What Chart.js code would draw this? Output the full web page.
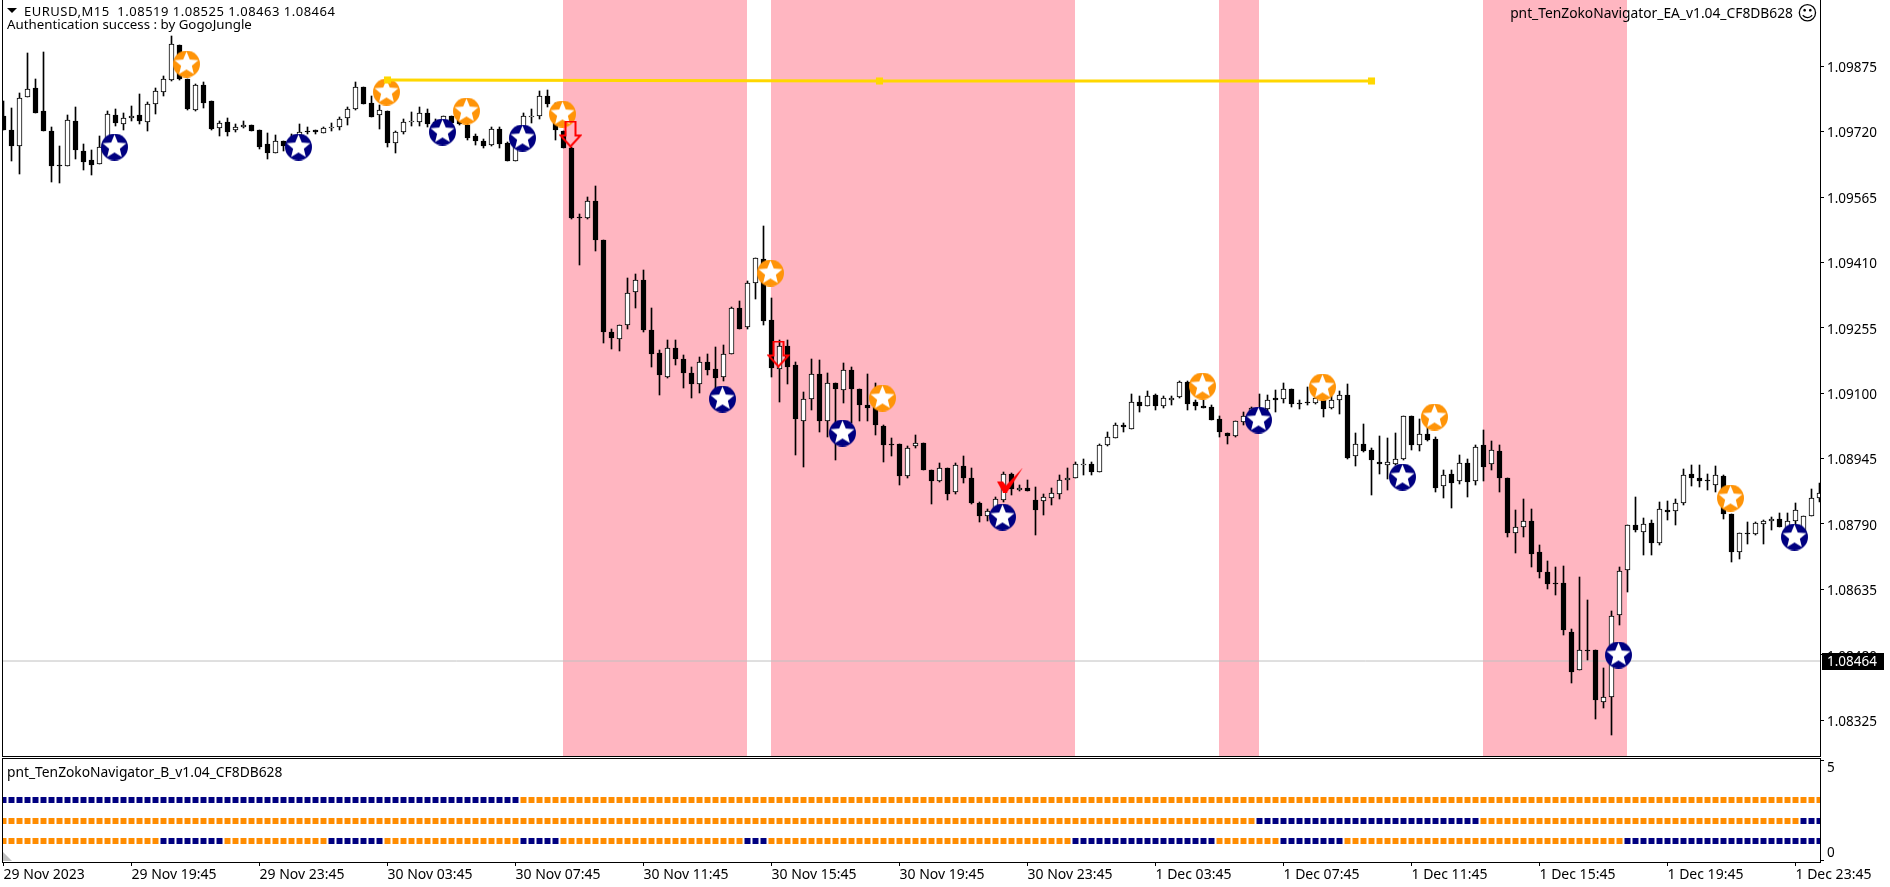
<!DOCTYPE html>
<html lang="en">
<head>
<meta charset="UTF-8">
<title>EURUSD,M15</title>
<script src="https://cdn.jsdelivr.net/npm/chart.js"></script>
<style>
    html, body { margin: 0; padding: 0; background: #fff; overflow: hidden; }
    body { width: 1890px; height: 887px; position: relative; font-family: "Noto Sans", sans-serif; font-size: 13.8px; color: #000; }
    canvas { position: absolute; left: 0; }
    #mainChart { top: 0; }
    #paneChart { top: 758px; }
    .label { position: absolute; white-space: pre; line-height: 14px; }
    #marker { position: absolute; left: 7px; top: 8px; width: 0; height: 0; border-left: 5px solid transparent; border-right: 5px solid transparent; border-top: 5px solid #000; }
    #corner { position: absolute; left: 3px; top: 852px; width: 0; height: 0; border-bottom: 9px solid #c0c0c0; border-right: 9px solid transparent; }
</style>
</head>
<body>
<canvas id="mainChart" width="1890" height="757"></canvas>
<canvas id="paneChart" width="1890" height="129"></canvas>
<div id="marker"></div>
<div class="label" style="left:24px;top:4px;font-size:13px;letter-spacing:.5px">EURUSD,M15  1.08519 1.08525 1.08463 1.08464</div>
<div class="label" style="left:7px;top:17px;font-size:13.3px">Authentication success : by GogoJungle</div>
<div class="label" style="right:97px;top:6px">pnt_TenZokoNavigator_EA_v1.04_CF8DB628</div>
<div class="label" style="left:1797px;top:2px;font:20px/22px 'DejaVu Sans'">&#9786;</div>
<div class="label" style="left:7px;top:765px">pnt_TenZokoNavigator_B_v1.04_CF8DB628</div>
<div id="corner"></div>
<script>
// M15 bars, one entry per bar
const opens = [
    1.09757,1.09725,1.09687,1.09801,1.09823,1.09769,1.09722,1.09641,1.09639,1.09745,
    1.09674,1.09653,1.09644,1.09683,1.09759,1.09739,1.09752,1.09759,1.09744,1.09785,
    1.09815,1.09842,1.09925,1.09844,1.09772,1.09831,1.09793,1.09728,1.09743,1.09723,
    1.09730,1.09735,1.09723,1.09690,1.09670,1.09697,1.09687,1.09696,1.09722,1.09723,
    1.09716,1.09731,1.09732,1.09752,1.09773,1.09825,1.09787,1.09759,1.09769,1.09694,
    1.09719,1.09742,1.09744,1.09764,1.09732,1.09740,1.09756,1.09748,1.09736,1.09710,
    1.09698,1.09688,1.09726,1.09692,1.09651,1.09720,1.09754,1.09756,1.09805,1.09771,
    1.09722,1.09682,1.09518,1.09516,1.09555,1.09463,1.09245,1.09228,1.09261,1.09339,
    1.09369,1.09250,1.09195,1.09138,1.09207,1.09181,1.09147,1.09121,1.09173,1.09157,
    1.09138,1.09192,1.09301,1.09256,1.09361,1.09418,1.09273,1.09157,1.09212,1.09167,
    1.09035,1.09086,1.09145,1.09035,1.09124,1.09107,1.09155,1.09110,1.09073,1.09067,
    1.09023,1.08979,1.08979,1.08903,1.08974,1.08982,1.08919,1.08893,1.08922,1.08865,
    1.08928,1.08900,1.08840,1.08808,1.08820,1.08848,1.08909,1.08870,1.08875,1.08847,
    1.08844,1.08851,1.08861,1.08894,1.08899,1.08931,1.08933,1.08912,1.08977,1.08994,
    1.09024,1.09015,1.09079,1.09069,1.09095,1.09069,1.09085,1.09090,1.09126,1.09079,
    1.09069,1.09067,1.09038,1.09005,1.08999,1.09032,1.09043,1.09064,1.09062,1.09088,
    1.09087,1.09109,1.09077,1.09078,1.09076,1.09084,1.09064,1.09085,1.09095,1.08950,
    1.08979,1.08965,1.08938,1.08929,1.08933,1.08943,1.09045,1.08978,1.09003,1.08991,
    1.08879,1.08908,1.08891,1.08934,1.08892,1.08977,1.08932,1.08963,1.08899,1.08768,
    1.08783,1.08797,1.08723,1.08676,1.08651,1.08650,1.08534,1.08444,1.08491,1.08491,
    1.08367,1.08380,1.08574,1.08681,1.08787,1.08771,1.08792,1.08746,1.08823,1.08821,
    1.08839,1.08908,1.08899,1.08894,1.08882,1.08903,1.08813,1.08723,1.08769,1.08766,
    1.08791,1.08797,1.08802,1.08772,1.08798,1.08764,1.08809,1.08851
];
const highs = [
    1.09793,1.09775,1.09811,1.09906,1.09844,1.09908,1.09731,1.09686,1.09759,1.09778,
    1.09691,1.09676,1.09710,1.09769,1.09774,1.09763,1.09781,1.09809,1.09791,1.09823,
    1.09853,1.09947,1.09925,1.09844,1.09834,1.09838,1.09793,1.09746,1.09752,1.09738,
    1.09745,1.09735,1.09723,1.09716,1.09712,1.09697,1.09714,1.09738,1.09732,1.09723,
    1.09732,1.09741,1.09755,1.09778,1.09838,1.09825,1.09805,1.09783,1.09769,1.09722,
    1.09750,1.09767,1.09779,1.09773,1.09749,1.09756,1.09756,1.09756,1.09740,1.09715,
    1.09702,1.09730,1.09730,1.09696,1.09712,1.09765,1.09773,1.09817,1.09819,1.09787,
    1.09722,1.09683,1.09525,1.09565,1.09591,1.09463,1.09252,1.09261,1.09373,1.09382,
    1.09392,1.09301,1.09203,1.09226,1.09226,1.09191,1.09162,1.09185,1.09193,1.09209,
    1.09215,1.09304,1.09319,1.09366,1.09420,1.09497,1.09325,1.09227,1.09227,1.09174,
    1.09103,1.09181,1.09178,1.09148,1.09124,1.09171,1.09163,1.09110,1.09145,1.09124,
    1.09024,1.08994,1.08979,1.08975,1.09000,1.08983,1.08919,1.08934,1.08922,1.08934,
    1.08952,1.08922,1.08843,1.08825,1.08855,1.08912,1.08911,1.08883,1.08895,1.08877,
    1.08862,1.08875,1.08907,1.08922,1.08938,1.08944,1.08936,1.08980,1.09008,1.09029,
    1.09029,1.09098,1.09094,1.09106,1.09098,1.09093,1.09093,1.09129,1.09129,1.09085,
    1.09085,1.09072,1.09046,1.09006,1.09034,1.09055,1.09068,1.09098,1.09096,1.09107,
    1.09125,1.09109,1.09085,1.09115,1.09119,1.09088,1.09096,1.09104,1.09122,1.09005,
    1.09028,1.08969,1.08998,1.08993,1.09005,1.09045,1.09045,1.09038,1.09022,1.08997,
    1.08918,1.08919,1.08954,1.08944,1.08978,1.09013,1.08987,1.08978,1.08899,1.08824,
    1.08849,1.08825,1.08740,1.08702,1.08689,1.08691,1.08541,1.08664,1.08610,1.08491,
    1.08448,1.08584,1.08687,1.08787,1.08855,1.08804,1.08800,1.08843,1.08845,1.08849,
    1.08920,1.08930,1.08930,1.08908,1.08928,1.08906,1.08813,1.08768,1.08794,1.08794,
    1.08800,1.08806,1.08816,1.08816,1.08839,1.08810,1.08873,1.08888
];
const lows = [
    1.09724,1.09651,1.09619,1.09801,1.09765,1.09722,1.09601,1.09599,1.09638,1.09656,
    1.09628,1.09616,1.09644,1.09683,1.09733,1.09724,1.09745,1.09738,1.09722,1.09761,
    1.09805,1.09841,1.09842,1.09771,1.09770,1.09777,1.09724,1.09710,1.09710,1.09720,
    1.09728,1.09721,1.09679,1.09654,1.09670,1.09673,1.09680,1.09694,1.09714,1.09714,
    1.09716,1.09721,1.09725,1.09736,1.09771,1.09786,1.09754,1.09726,1.09684,1.09670,
    1.09715,1.09734,1.09734,1.09730,1.09728,1.09732,1.09736,1.09736,1.09700,1.09689,
    1.09681,1.09686,1.09681,1.09651,1.09651,1.09677,1.09741,1.09750,1.09778,1.09700,
    1.09682,1.09513,1.09403,1.09512,1.09438,1.09220,1.09204,1.09199,1.09252,1.09301,
    1.09244,1.09161,1.09096,1.09135,1.09166,1.09113,1.09089,1.09100,1.09142,1.09108,
    1.09128,1.09192,1.09252,1.09251,1.09324,1.09262,1.09139,1.09078,1.09122,1.08954,
    1.08924,1.09059,1.09009,1.08997,1.08941,1.09076,1.09029,1.09035,1.09035,1.09000,
    1.08938,1.08952,1.08883,1.08900,1.08971,1.08917,1.08838,1.08890,1.08847,1.08860,
    1.08888,1.08838,1.08794,1.08796,1.08808,1.08843,1.08859,1.08869,1.08867,1.08764,
    1.08812,1.08834,1.08850,1.08871,1.08898,1.08907,1.08907,1.08912,1.08974,1.08993,
    1.09007,1.09014,1.09056,1.09069,1.09059,1.09066,1.09073,1.09088,1.09060,1.09059,
    1.09066,1.09036,1.08997,1.08980,1.08997,1.09025,1.09036,1.09028,1.09056,1.09056,
    1.09076,1.09068,1.09062,1.09071,1.09074,1.09044,1.09063,1.09051,1.08945,1.08927,
    1.08961,1.08859,1.08908,1.08897,1.08930,1.08942,1.08965,1.08964,1.08987,1.08866,
    1.08852,1.08829,1.08885,1.08855,1.08882,1.08893,1.08917,1.08865,1.08758,1.08721,
    1.08759,1.08687,1.08663,1.08637,1.08621,1.08526,1.08414,1.08444,1.08468,1.08328,
    1.08353,1.08289,1.08550,1.08628,1.08772,1.08717,1.08717,1.08739,1.08800,1.08787,
    1.08834,1.08881,1.08877,1.08870,1.08866,1.08802,1.08701,1.08708,1.08742,1.08764,
    1.08742,1.08775,1.08783,1.08768,1.08784,1.08753,1.08808,1.08843
];
const closes = [
    1.09724,1.09687,1.09799,1.09820,1.09765,1.09722,1.09639,1.09639,1.09747,1.09677,
    1.09649,1.09642,1.09683,1.09761,1.09740,1.09752,1.09758,1.09746,1.09785,1.09816,
    1.09844,1.09927,1.09844,1.09774,1.09831,1.09789,1.09726,1.09740,1.09720,1.09730,
    1.09735,1.09722,1.09684,1.09670,1.09697,1.09686,1.09696,1.09720,1.09718,1.09718,
    1.09728,1.09732,1.09749,1.09773,1.09825,1.09786,1.09755,1.09771,1.09694,1.09718,
    1.09742,1.09745,1.09764,1.09739,1.09744,1.09756,1.09740,1.09738,1.09706,1.09698,
    1.09686,1.09726,1.09691,1.09651,1.09692,1.09756,1.09756,1.09805,1.09786,1.09723,
    1.09682,1.09516,1.09515,1.09555,1.09464,1.09246,1.09232,1.09261,1.09337,1.09368,
    1.09249,1.09194,1.09142,1.09207,1.09180,1.09147,1.09121,1.09173,1.09155,1.09137,
    1.09192,1.09301,1.09253,1.09361,1.09420,1.09272,1.09159,1.09212,1.09161,1.09039,
    1.09086,1.09145,1.09035,1.09124,1.09109,1.09155,1.09109,1.09071,1.09066,1.09024,
    1.08976,1.08976,1.08903,1.08970,1.08982,1.08917,1.08891,1.08922,1.08862,1.08930,
    1.08900,1.08839,1.08808,1.08821,1.08849,1.08908,1.08872,1.08875,1.08867,1.08824,
    1.08854,1.08863,1.08894,1.08899,1.08932,1.08933,1.08912,1.08977,1.08996,1.09024,
    1.09019,1.09079,1.09069,1.09093,1.09069,1.09088,1.09088,1.09126,1.09075,1.09070,
    1.09066,1.09037,1.09007,1.08999,1.09033,1.09047,1.09066,1.09028,1.09085,1.09085,
    1.09111,1.09075,1.09076,1.09076,1.09088,1.09063,1.09085,1.09095,1.08947,1.08979,
    1.08964,1.08942,1.08933,1.08938,1.08945,1.09045,1.08978,1.09004,1.08989,1.08876,
    1.08907,1.08888,1.08934,1.08889,1.08972,1.08926,1.08965,1.08898,1.08768,1.08783,
    1.08797,1.08718,1.08675,1.08647,1.08649,1.08538,1.08438,1.08491,1.08490,1.08372,
    1.08380,1.08572,1.08678,1.08787,1.08775,1.08789,1.08746,1.08825,1.08818,1.08839,
    1.08906,1.08900,1.08891,1.08892,1.08906,1.08813,1.08723,1.08768,1.08767,1.08792,
    1.08797,1.08802,1.08784,1.08796,1.08822,1.08809,1.08851,1.08863
];

// pink zones, first and last bar of each
const zoneStarts = [70, 96, 152, 185];
const zoneEnds = [93, 134, 157, 203];

// signal markers: bar number and price
const orangeBars = [23, 48, 58, 70, 96, 110, 150, 165, 179, 216];
const orangePrices = [1.09880, 1.09815, 1.09768, 1.09761, 1.09384, 1.09088, 1.09116, 1.09114, 1.09043, 1.08851];
const navyBars = [14, 37, 55, 65, 90, 105, 125, 157, 175, 202, 224];
const navyPrices = [1.09683, 1.09683, 1.09718, 1.09704, 1.09086, 1.09005, 1.08806, 1.09036, 1.08901, 1.08479, 1.08759];
const arrowBars = [71, 97];
const arrowPrices = [1.09714, 1.09193];
const checkBars = [126];
const checkPrices = [1.08894];

// gold trend line
const trendBars = [48, 109.5, 171];
const trendPrices = [1.09842, 1.09841, 1.09839];

const bidPrice = 1.08464;
const priceTicks = [1.09875, 1.09720, 1.09565, 1.09410, 1.09255, 1.09100, 1.08945, 1.08790, 1.08635, 1.08480, 1.08325];
const priceMin = 1.08240;
const priceMax = 1.10032;

// lower pane: navy runs per row as [first bar, last bar], the rest is orange
const topRowNavy = [[0, 64]];
const midRowNavy = [[157, 184], [225, 227]];
const lowRowNavy = [[20, 27], [41, 47], [65, 69], [93, 95], [134, 151], [160, 167], [203, 227]];
const rowLevels = [3, 2, 1];
const paneTicks = [5, 0];

const timeTickBars = [0, 16, 32, 48, 64, 80, 96, 112, 128, 144, 160, 176, 192, 208, 224];
const timeLabels = ["29 Nov 2023", "29 Nov 19:45", "29 Nov 23:45", "30 Nov 03:45", "30 Nov 07:45",
    "30 Nov 11:45", "30 Nov 15:45", "30 Nov 19:45", "30 Nov 23:45", "1 Dec 03:45",
    "1 Dec 07:45", "1 Dec 11:45", "1 Dec 15:45", "1 Dec 19:45", "1 Dec 23:45"];

const NAVY = "#000080";
const ORANGE = "#FF8C00";
const GOLD = "#FFD700";
const ZONE = "#FFB6C1";
const AXIS_FONT = { family: "'Noto Sans', sans-serif", size: 13.5 };
const TIME_FONT = { family: "'Noto Sans', sans-serif", size: 14 };
const barMin = -0.1875, barMax = 227.0625;

function makeStar(color) {
    const c = document.createElement("canvas");
    c.width = c.height = 27;
    const g = c.getContext("2d");
    g.fillStyle = color;
    g.beginPath();
    g.arc(13.5, 13.5, 13.5, 0, Math.PI * 2);
    g.fill();
    g.fillStyle = "#fff";
    g.beginPath();
    for (let i = 0; i < 10; i++) {
        const r = i % 2 ? 5.6 : 12.5;
        const a = -Math.PI / 2 + i * Math.PI / 5;
        g.lineTo(13.5 + r * Math.cos(a), 13.5 + r * Math.sin(a));
    }
    g.closePath();
    g.fill();
    return c;
}

function makeArrow() {
    const c = document.createElement("canvas");
    c.width = 23;
    c.height = 27;
    const g = c.getContext("2d");
    g.strokeStyle = "#FF0000";
    g.lineWidth = 2;
    g.beginPath();
    g.moveTo(6.5, 1);
    g.lineTo(16.5, 1);
    g.lineTo(16.5, 15);
    g.lineTo(21.5, 15);
    g.lineTo(11.5, 26);
    g.lineTo(1.5, 15);
    g.lineTo(6.5, 15);
    g.closePath();
    g.stroke();
    return c;
}

function makeCheck() {
    const c = document.createElement("canvas");
    c.width = 27;
    c.height = 25;
    const g = c.getContext("2d");
    g.fillStyle = "#FF0000";
    g.beginPath();
    g.moveTo(0, 14);
    g.lineTo(6, 14);
    g.lineTo(9, 18);
    g.lineTo(26, 0);
    g.lineTo(10, 25);
    g.lineTo(6, 25);
    g.closePath();
    g.fill();
    return c;
}

function pairs(bars, prices) {
    return bars.map((b, i) => ({ x: b, y: prices[i] }));
}

function markers(bars, prices, image, order) {
    return {
        type: "scatter",
        data: bars.map((b, i) => ({ x: b - 0.125, y: prices[i] })),
        pointStyle: image,
        pointRadius: 14,
        order
    };
}

function rowColors(navyRuns) {
    return opens.map((_, i) => navyRuns.some(r => i >= r[0] && i <= r[1]) ? NAVY : ORANGE);
}

function rowDataset(level, navyRuns) {
    return {
        type: "scatter",
        data: opens.map((_, i) => ({ x: i, y: level })),
        pointStyle: "rect",
        pointRadius: 4.24,
        pointBorderWidth: 0,
        pointBackgroundColor: rowColors(navyRuns)
    };
}

// scales must not ask for room around the plot, panes sit edge to edge
function noScalePadding(s) {
    s.paddingTop = s.paddingBottom = s.paddingLeft = s.paddingRight = 0;
}

// snap everything to whole pixels, the original has no antialiasing
const snapPlugin = {
    id: "snap",
    afterDatasetsUpdate(chart) {
        chart.getSortedVisibleDatasetMetas().forEach(meta => {
            meta.data.forEach(el => {
                el.y = Math.round(el.y);
                if (el.base !== undefined) {
                    el.base = Math.round(el.base);
                    if (el.base === el.y) el.base = el.y + 1;
                }
            });
        });
    }
};

const zonePlugin = {
    id: "zones",
    beforeDatasetsDraw(chart) {
        const { ctx, chartArea, scales } = chart;
        ctx.save();
        ctx.fillStyle = ZONE;
        zoneStarts.forEach((start, i) => {
            const x1 = Math.round(scales.x.getPixelForValue(start)) - 1;
            const x2 = Math.round(scales.x.getPixelForValue(zoneEnds[i])) - 1;
            ctx.fillRect(x1, chartArea.top, x2 - x1, chartArea.bottom - chartArea.top);
        });
        ctx.restore();
    }
};

const framePlugin = {
    id: "frame",
    afterDraw(chart, args, opts) {
        const { ctx, chartArea: a } = chart;
        ctx.save();
        ctx.strokeStyle = "#000";
        ctx.lineWidth = 1;
        ctx.strokeRect(a.left + 0.5, a.top + (opts.top ? 0.5 : -2), a.right - a.left, a.bottom - a.top + (opts.top ? 0 : 2.5));
        ctx.restore();
    }
};

const bidTagPlugin = {
    id: "bidTag",
    afterDraw(chart) {
        const { ctx, scales } = chart;
        const y = Math.round(scales.y.getPixelForValue(bidPrice));
        ctx.save();
        ctx.fillStyle = "#000";
        ctx.fillRect(1822, y - 8, 62, 17);
        ctx.fillStyle = "#fff";
        ctx.font = "13.5px 'Noto Sans', sans-serif";
        ctx.textBaseline = "middle";
        ctx.fillText(bidPrice.toFixed(5), 1827, y + 1);
        ctx.restore();
    }
};

const candleData = {
    wicks: opens.map((_, i) => ({ x: i, y: [lows[i], highs[i]] })),
    bodies: opens.map((o, i) => ({ x: i, y: [Math.min(o, closes[i]), Math.max(o, closes[i])] }))
};

new Chart(document.getElementById("mainChart"), {
    type: "bar",
    data: {
        datasets: [
            {
                type: "line",
                data: [{ x: barMin, y: bidPrice }, { x: barMax, y: bidPrice }],
                borderColor: "#C0C0C0",
                borderWidth: 1,
                pointRadius: 0,
                order: 7
            },
            {
                data: candleData.wicks,
                backgroundColor: "#000",
                grouped: false,
                barPercentage: 1,
                categoryPercentage: 1,
                maxBarThickness: 1,
                order: 6
            },
            {
                data: candleData.bodies,
                backgroundColor: opens.map((o, i) => closes[i] >= o ? "#fff" : "#000"),
                borderColor: "#000",
                borderWidth: 1,
                borderSkipped: false,
                grouped: false,
                barPercentage: 1,
                categoryPercentage: 1,
                maxBarThickness: 5,
                order: 5
            },
            markers(orangeBars, orangePrices, makeStar("#FF9408"), 4),
            markers(navyBars, navyPrices, makeStar(NAVY), 4),
            {
                type: "line",
                data: pairs(trendBars, trendPrices),
                borderColor: GOLD,
                borderWidth: 3,
                pointStyle: "rect",
                pointRadius: 5,
                pointBackgroundColor: GOLD,
                pointBorderWidth: 0,
                order: 3
            },
            markers(checkBars, checkPrices, makeCheck(), 2),
            markers(arrowBars, arrowPrices, makeArrow(), 1)
        ]
    },
    options: {
        responsive: false,
        animation: false,
        events: [],
        layout: { autoPadding: false, padding: { left: 2, bottom: 1, top: 0, right: 0 } },
        plugins: { legend: { display: false }, tooltip: { enabled: false }, frame: { top: false } },
        scales: {
            x: { type: "linear", display: false, min: barMin, max: barMax, offset: false },
            y: {
                position: "right",
                min: priceMin,
                max: priceMax,
                afterFit(s) { s.width = 70; noScalePadding(s); },
                afterBuildTicks(s) { s.ticks = priceTicks.map(v => ({ value: v })); },
                grid: { drawOnChartArea: false, color: "#000", tickLength: 4 },
                border: { color: "#000" },
                ticks: {
                    color: "#000",
                    font: AXIS_FONT,
                    padding: 3,
                    labelOffset: 2,
                    autoSkip: false,
                    callback: v => v.toFixed(5)
                }
            }
        }
    },
    plugins: [snapPlugin, zonePlugin, framePlugin, bidTagPlugin]
});

new Chart(document.getElementById("paneChart"), {
    type: "scatter",
    data: {
        datasets: [
            rowDataset(rowLevels[0], topRowNavy),
            rowDataset(rowLevels[1], midRowNavy),
            rowDataset(rowLevels[2], lowRowNavy)
        ]
    },
    options: {
        responsive: false,
        animation: false,
        events: [],
        layout: { autoPadding: false, padding: { left: 2, right: 0, top: 0, bottom: 0 } },
        plugins: { legend: { display: false }, tooltip: { enabled: false }, frame: { top: true } },
        scales: {
            x: {
                type: "linear",
                position: "bottom",
                min: barMin,
                max: barMax,
                afterFit(s) { s.height = 25; noScalePadding(s); },
                afterBuildTicks(s) { s.ticks = timeTickBars.map(v => ({ value: v })); },
                grid: { drawOnChartArea: false, color: "#000", tickLength: 4 },
                border: { color: "#000" },
                ticks: {
                    color: "#000",
                    font: TIME_FONT,
                    padding: 1,
                    align: "start",
                    autoSkip: false,
                    maxRotation: 0,
                    callback: (v, i) => timeLabels[i]
                }
            },
            y: {
                position: "right",
                min: -0.05,
                max: 5.1,
                afterFit(s) { s.width = 70; noScalePadding(s); },
                afterBuildTicks(s) { s.ticks = paneTicks.map(v => ({ value: v })); },
                grid: { drawOnChartArea: false, color: "#000", tickLength: 4 },
                border: { color: "#000" },
                ticks: {
                    color: "#000",
                    font: AXIS_FONT,
                    padding: 3,
                    autoSkip: false,
                    // label sits below the top tick and above the bottom tick
                    callback: v => v > 0 ? ["", String(v)] : [String(v), ""]
                }
            }
        }
    },
    plugins: [snapPlugin, framePlugin]
});
</script>
</body>
</html>
